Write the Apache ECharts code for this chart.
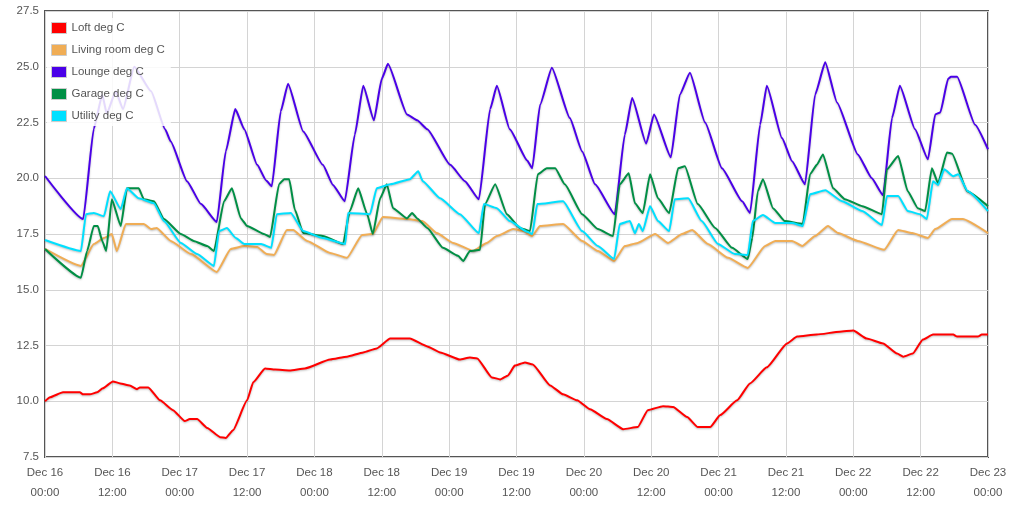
<!DOCTYPE html>
<html>
<head>
<meta charset="utf-8">
<script src="https://cdn.jsdelivr.net/npm/echarts@6/dist/echarts.min.js"></script>
<style>
html,body{margin:0;padding:0;background:#fff;}
#chart{width:1017px;height:508px;}
</style>
</head>
<body>
<div id="chart"></div>
<script>
// hours since Dec 16 00:00
const seriesNames = ['Loft deg C', 'Living room deg C', 'Lounge deg C', 'Garage deg C', 'Utility deg C'];

const loftHours = [0,0.9,3.2,6.2,6.8,8.0,9.3,10.3,12.1,13.4,15.1,16.4,16.9,18.4,20.5,22.8,24.9,25.8,27.1,28.9,31.2,32.2,33.5,36.0,37.1,39.2,41.0,43.6,46.3,50.8,53.8,56.7,59.1,61.5,65.0,68.1,70.4,73.9,75.7,77.0,79.6,81.1,82.5,83.7,85.5,86.9,90.0,92.3,94.8,97.1,100.1,103.0,105.6,107.4,110.1,111.9,114.4,116.3,118.5,120.3,123.3,125.6,128.6,132.2,134.0,137.5,141.6,144.0,146.4,149.3,151.8,152.9,154.6,156.4,158.2,161.8,162.5,166.2,166.9,168];
const loftValues = [10.0,10.18,10.4,10.4,10.31,10.31,10.4,10.58,10.89,10.8,10.71,10.54,10.62,10.62,10.04,9.6,9.11,9.2,9.2,8.8,8.39,8.35,8.7,10.04,10.85,11.47,11.42,11.38,11.47,11.87,12.0,12.19,12.37,12.81,12.81,12.46,12.19,11.87,11.96,11.92,11.07,10.98,11.16,11.6,11.74,11.65,10.71,10.31,10.04,9.64,9.2,8.75,8.84,9.6,9.78,9.74,9.29,8.84,8.84,9.38,10.04,10.8,11.52,12.59,12.9,12.99,13.12,13.17,12.81,12.59,12.14,12.0,12.14,12.77,12.99,12.99,12.9,12.9,12.99,12.99];

const livingHours = [0,6.4,8.7,10.5,11.9,12.8,14.4,17.6,18.9,19.9,22.4,26.0,30.6,33.1,35.5,37.8,39.5,40.8,43.1,44.2,46.7,50.8,53.8,56.5,58.4,60.2,64.5,67.2,69.8,72.7,76.3,78.7,80.5,83.4,85.2,86.8,88.2,92.3,95.7,98.5,101.4,103.3,105.6,108.7,111.0,113.5,115.3,118.1,121.7,125.2,128.3,130.1,133.1,134.9,137.2,139.5,141.3,144.8,149.5,152.0,154.5,157.3,158.6,161.6,163.5,168];
const livingValues = [16.83,16.07,17.05,17.32,17.5,16.74,17.95,17.95,17.72,17.77,17.19,16.6,15.8,16.83,16.96,16.92,16.6,16.56,17.68,17.68,17.19,16.65,16.43,17.46,17.5,18.26,18.17,18.08,17.54,17.1,16.74,17.1,17.41,17.72,17.63,17.41,17.86,17.95,17.19,16.74,16.29,16.96,17.1,17.5,17.1,17.5,17.68,17.05,16.43,15.98,16.96,17.19,17.19,16.96,17.41,17.86,17.54,17.19,16.79,17.68,17.54,17.32,17.72,18.17,18.17,17.54];

const loungeHours = [0,6.8,8.7,10.2,11.0,12.6,13.9,15.9,18.9,21.4,22.4,25.3,27.8,30.6,32.2,33.9,35.5,37.8,39.4,40.4,42.0,43.3,46.0,49.5,51.3,53.4,55.2,56.7,58.6,60.0,61.1,64.5,66.3,68.1,72.2,74.8,77.3,79.3,80.5,82.8,85.9,86.8,88.2,90.3,93.5,95.7,98.0,101.5,103.3,104.6,107.1,108.5,111.5,113.1,114.9,117.6,120.6,124.2,125.6,127.4,128.6,131.3,133.1,135.4,137.2,139.0,141.1,144.8,147.3,149.3,150.9,152.3,155.0,157.3,158.6,159.5,160.9,161.4,162.5,165.7,168];
const loungeValues = [20.1,18.17,22.23,23.75,22.9,23.9,23.1,25.0,23.9,22.2,21.65,19.87,18.84,18.04,21.2,23.1,22.2,20.6,19.9,19.64,23.0,24.24,22.1,20.6,19.7,18.97,21.96,24.15,22.6,24.46,25.13,22.86,22.6,22.2,20.6,19.87,19.06,23.1,24.15,22.2,20.8,20.45,23.3,24.96,22.7,21.2,19.73,18.39,21.96,23.6,21.56,22.86,20.94,23.75,24.73,22.5,20.45,18.97,18.44,22.4,24.15,21.8,20.76,19.73,23.75,25.2,23.4,21.07,20.0,19.24,22.7,24.15,22.2,20.85,22.86,22.95,24.46,24.55,24.55,22.4,21.3];

const garageHours = [0,6.4,7.5,8.7,9.4,10.2,10.9,11.9,13.5,14.6,16.7,17.6,19.4,21.2,24.2,26.5,28.9,30.1,31.9,33.3,34.9,36.0,39.0,40.1,41.7,42.6,43.5,44.5,46.0,49.5,53.1,54.3,55.8,57.4,58.4,59.7,60.9,62.0,64.5,65.4,66.3,68.1,70.9,73.6,74.5,75.7,77.5,78.4,80.2,82.3,84.6,86.4,87.8,89.4,90.9,92.6,95.7,98.5,101.2,102.4,104.0,105.1,106.5,107.8,109.2,111.2,112.8,114.0,116.3,119.4,122.4,125.2,126.0,127.0,127.9,129.7,131.8,135.0,136.3,137.5,138.6,140.4,142.5,145.6,149.1,150.0,152.0,153.7,155.5,156.8,158.0,159.1,160.7,161.6,164.3,168];
const garageValues = [16.83,15.54,16.74,17.86,17.86,17.19,16.74,19.06,17.86,19.55,19.55,19.06,18.97,18.17,17.5,17.19,16.96,16.74,18.97,19.55,18.2,17.86,17.5,17.37,19.73,19.96,19.96,18.6,17.54,17.41,17.05,18.53,19.55,18.39,17.5,19.1,19.73,18.66,18.2,18.44,18.2,17.77,16.88,16.52,16.29,16.74,16.79,18.84,19.73,18.39,17.77,17.63,20.18,20.45,20.45,19.73,18.39,17.72,17.41,19.73,20.22,18.88,18.44,20.18,19.1,18.44,20.45,20.54,18.84,17.77,16.88,16.38,17.32,19.42,19.96,18.66,18.08,17.95,20.18,20.6,21.07,19.55,19.06,18.75,18.39,20.4,21.0,19.42,18.66,18.53,20.45,19.78,21.16,21.1,19.42,18.75];

const utilityHours = [0,6.4,7.3,8.7,10.5,11.6,13.5,14.6,16.7,19.4,21.2,24.2,27.1,30.1,31.0,32.4,34.0,35.5,38.5,40.3,41.3,43.8,46.0,49.5,53.5,54.0,57.9,59.1,61.5,65.0,66.5,67.3,70.4,73.9,77.3,78.2,80.5,82.8,85.9,86.8,87.7,92.3,95.7,98.5,101.4,102.4,104.2,105.1,105.8,106.5,107.8,109.2,111.2,112.2,114.6,117.0,119.9,122.9,125.2,126.1,127.9,130.1,133.1,135.0,136.3,139.0,142.0,145.6,149.1,150.0,152.0,153.7,155.9,157.1,158.2,159.1,160.2,161.8,162.7,164.4,168];
const utilityValues = [17.23,16.74,18.39,18.44,18.3,19.42,18.62,19.55,19.1,18.88,18.08,17.1,16.6,16.07,17.63,17.77,17.32,17.05,17.05,16.88,18.39,18.44,17.63,17.32,17.05,18.44,18.39,19.55,19.73,19.96,20.31,19.87,19.1,18.39,17.54,18.84,18.66,18.08,17.6,17.5,18.84,18.97,17.63,16.96,16.38,17.95,18.08,17.54,17.95,17.63,18.75,18.08,17.63,19.06,19.1,18.08,17.05,16.6,16.56,18.08,18.35,17.99,17.99,17.86,19.28,19.46,18.97,18.53,17.9,19.2,19.2,18.53,18.39,18.17,19.87,19.7,20.4,20.09,20.18,19.42,18.53];

const yTicks = [7.5, 10.0, 12.5, 15.0, 17.5, 20.0, 22.5, 25.0, 27.5];
const dayLabels = ['Dec 16','Dec 16','Dec 17','Dec 17','Dec 18','Dec 18','Dec 19','Dec 19','Dec 20','Dec 20','Dec 21','Dec 21','Dec 22','Dec 22','Dec 23'];
const timeLabels = ['00:00','12:00'];

const colors = ['#ff0000', '#f0ad55', '#4a00e8', '#008f45', '#00e0ff'];
const hoursList = [loftHours, livingHours, loungeHours, garageHours, utilityHours];
const valuesList = [loftValues, livingValues, loungeValues, garageValues, utilityValues];

function pairs(h, v) { return h.map((x, i) => [x, v[i]]); }

const chart = echarts.init(document.getElementById('chart'), null, {renderer: 'canvas'});
chart.setOption({
  animation: false,
  backgroundColor: '#fff',
  grid: {
    left: 45, right: 29, top: 11, bottom: 51,
    show: true, borderColor: '#555', borderWidth: 2, backgroundColor: 'transparent'
  },
  legend: {
    orient: 'vertical',
    left: 47, top: 18,
    itemWidth: 15, itemHeight: 11,
    itemGap: 10,
    padding: [4, 6, 4, 4],
    backgroundColor: 'rgba(255,255,255,0.85)',
    textStyle: { color: '#555', fontSize: 11.5, fontFamily: 'Liberation Sans, Arial, sans-serif' },
    icon: 'rect',
    itemStyle: { borderColor: '#ccc', borderWidth: 1 },
    data: seriesNames.map((n, i) => ({ name: n, icon: 'rect', itemStyle: { color: colors[i], borderColor: '#ccc', borderWidth: 1 } }))
  },
  xAxis: {
    type: 'value', min: 0, max: 168, interval: 12,
    axisLine: { show: false }, axisTick: { show: false },
    splitLine: { show: true, lineStyle: { color: '#d4d4d4', width: 1 } },
    axisLabel: {
      color: '#555', fontSize: 11.5, lineHeight: 20, margin: 6,
      fontFamily: 'Liberation Sans, Arial, sans-serif',
      formatter: function (v) {
        const i = Math.round(v / 12);
        return dayLabels[i] + '\n' + timeLabels[i % 2];
      }
    }
  },
  yAxis: {
    type: 'value', min: yTicks[0], max: yTicks[yTicks.length - 1], interval: 2.5,
    axisLine: { show: false }, axisTick: { show: false },
    splitLine: { show: true, lineStyle: { color: '#d4d4d4', width: 1 } },
    axisLabel: {
      color: '#555', fontSize: 11.5, margin: 6,
      fontFamily: 'Liberation Sans, Arial, sans-serif',
      formatter: v => v.toFixed(1)
    }
  },
  series: seriesNames.map((n, i) => ({
    name: n, type: 'line', showSymbol: false, symbol: 'none',
    smooth: 0.15, smoothMonotone: 'x',
    data: pairs(hoursList[i], valuesList[i]),
    lineStyle: { color: colors[i], width: 2, shadowColor: 'rgba(0,0,0,0.25)', shadowBlur: 2, shadowOffsetY: 1 },
    itemStyle: { color: colors[i] },
    z: 2
  }))
});
</script>
</body>
</html>
